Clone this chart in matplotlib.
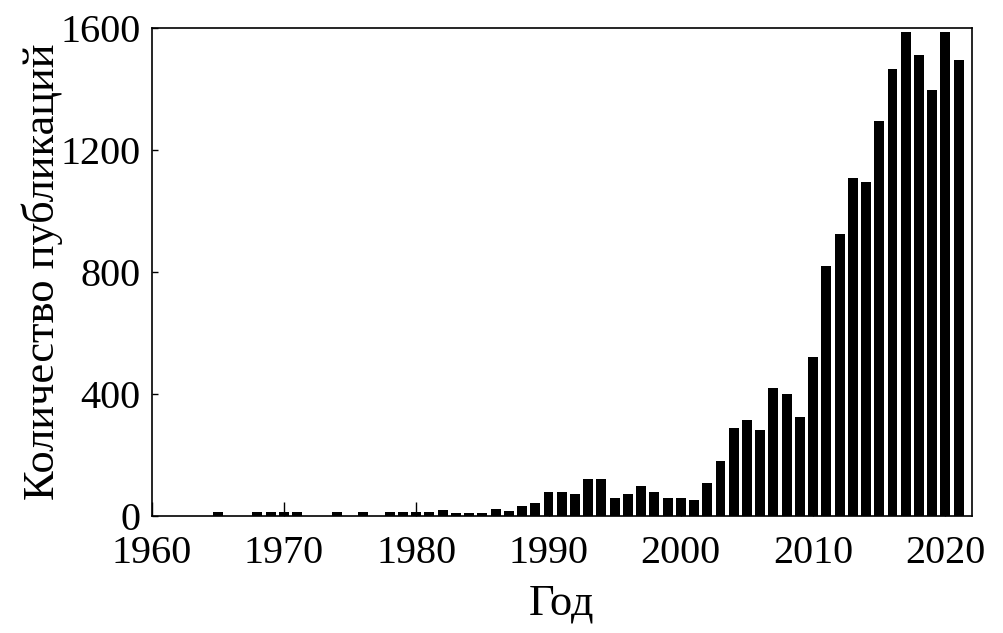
import matplotlib
matplotlib.use("Agg")
import matplotlib.pyplot as plt

# publications per year
years = list(range(1961, 2022))
counts = [0, 0, 0, 0, 12, 0, 0, 12, 12, 12,          # 1961-1970
          12, 0, 0, 12, 0, 12, 0, 12, 12, 12,          # 1971-1980
          12, 18, 10, 10, 10, 22, 15, 32, 42, 78,      # 1981-1990
          78, 72, 120, 120, 58, 72, 97, 78, 58, 58,    # 1991-2000
          52, 107, 180, 287, 313, 283, 420, 400, 325, 520,   # 2001-2010
          820, 925, 1108, 1095, 1293, 1465, 1585, 1510, 1395, 1585,  # 2011-2020
          1495]                                        # 2021
xticks = [1960, 1970, 1980, 1990, 2000, 2010, 2020]
yticks = [0, 400, 800, 1200, 1600]

plt.rcParams['font.family'] = ['Liberation Serif', 'DejaVu Serif']

fig = plt.figure(figsize=(10.04, 6.33), dpi=100)
ax = fig.add_axes([0.151, 0.185, 0.817, 0.771])

ax.bar(years, counts, width=0.75, color="black")

ax.set_xlim(1960, 2022)
ax.set_ylim(0, 1600)
ax.set_xticks(xticks)
ax.set_yticks(yticks)
ax.tick_params(axis="x", direction="in", length=10, width=1, labelsize=29, pad=14)
ax.tick_params(axis="y", direction="in", length=4, width=1, labelsize=29, pad=8)
for s in ax.spines.values():
    s.set_linewidth(1.2)

ax.set_xlabel("Год", fontsize=32, labelpad=8)
ax.set_ylabel("Количество публикаций", fontsize=32, labelpad=-2)

fig.savefig("out.png", dpi=100)
